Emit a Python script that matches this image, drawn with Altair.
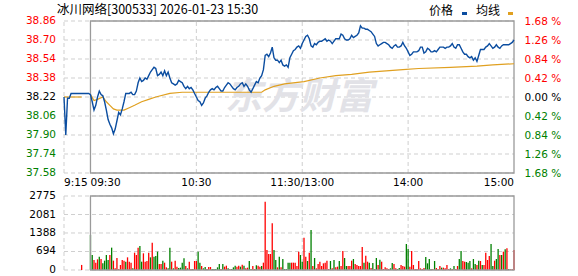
import altair as alt
import pandas as pd

# ---------------- data ----------------
title_text = "冰川网络[300533] 2026-01-23 15:30"
legend_labels = ["价格", "均线"]
watermark_text = "东方财富"
prev_close = 38.22
price_ticks = [37.58, 37.74, 37.90, 38.06, 38.22, 38.38, 38.54, 38.70, 38.86]
pct_step = 0.42
price_step = 0.16
vol_ticks = [0, 694, 1388, 2081, 2775]
time_ticks = [-15, 0, 60, 120, 180, 240]
time_labels = ["9:15", "09:30", "10:30", "11:30/13:00", "14:00", "15:00"]
grid_times = [-15, 60, 120, 180]

pre_minutes = list(range(-15, 0))
pre_prices = [38.22, 37.90, 38.21, 38.21, 38.25, 38.25, 38.25, 38.25,
              38.25, 38.25, 38.25, 38.25, 38.25, 38.25, 38.25]

main_minutes = list(range(0, 241))
prices = [
    38.24, 38.18, 38.11, 38.15, 38.22, 38.27, 38.24, 38.23, 38.18, 38.11,
    38.03, 37.99, 37.96, 37.91, 37.95, 38.02, 38.09, 38.07, 38.12, 38.18,
    38.25, 38.25, 38.25, 38.26, 38.24, 38.24, 38.27, 38.34, 38.38, 38.35,
    38.36, 38.38, 38.37, 38.40, 38.43, 38.45, 38.47, 38.46, 38.40, 38.41,
    38.43, 38.40, 38.44, 38.40, 38.43, 38.38, 38.34, 38.33, 38.32, 38.33,
    38.36, 38.35, 38.34, 38.31, 38.29, 38.31, 38.29, 38.30, 38.28, 38.25,
    38.22, 38.19, 38.18, 38.15, 38.17, 38.21, 38.23, 38.26, 38.28, 38.29,
    38.28, 38.30, 38.31, 38.29, 38.27, 38.27, 38.30, 38.32, 38.34, 38.33,
    38.31, 38.29, 38.28, 38.30, 38.31, 38.33, 38.34, 38.31, 38.33, 38.31,
    38.28, 38.26, 38.29, 38.32, 38.35, 38.34, 38.38, 38.40, 38.45, 38.57,
    38.58, 38.56, 38.59, 38.64, 38.55, 38.53, 38.53, 38.51, 38.53, 38.49,
    38.48, 38.49, 38.47, 38.55, 38.58, 38.61, 38.62, 38.64, 38.65, 38.63,
    38.67, 38.70, 38.73, 38.74, 38.71, 38.65, 38.64, 38.67, 38.66, 38.68,
    38.69, 38.69, 38.70, 38.71, 38.69, 38.70, 38.69, 38.67, 38.69, 38.71,
    38.71, 38.71, 38.75, 38.74, 38.71, 38.70, 38.70, 38.71, 38.74, 38.72,
    38.73, 38.74, 38.76, 38.82, 38.80, 38.80, 38.79, 38.79, 38.78, 38.77,
    38.75, 38.73, 38.67, 38.65, 38.66, 38.67, 38.68, 38.68, 38.67, 38.66,
    38.64, 38.63, 38.65, 38.66, 38.64, 38.64, 38.65, 38.68, 38.65, 38.63,
    38.60, 38.57, 38.58, 38.60, 38.60, 38.60, 38.61, 38.64, 38.64, 38.59,
    38.60, 38.63, 38.62, 38.60, 38.60, 38.61, 38.60, 38.62, 38.64, 38.64,
    38.64, 38.63, 38.64, 38.64, 38.65, 38.67, 38.64, 38.63, 38.66, 38.66,
    38.63, 38.60, 38.58, 38.58, 38.56, 38.55, 38.56, 38.53, 38.55, 38.52,
    38.57, 38.62, 38.62, 38.62, 38.64, 38.65, 38.67, 38.65, 38.63, 38.64,
    38.66, 38.64, 38.63, 38.65, 38.66, 38.66, 38.66, 38.66, 38.67, 38.68, 38.70,
]

avg_minutes = [-15, -5,
               0, 2, 4, 7, 9, 11, 13, 15, 19, 22, 25, 29, 33, 37, 45, 52, 97,
               99, 104, 110, 121, 130, 139, 148, 158, 177, 186, 204, 219, 228, 240]
avg_prices = [38.22, 38.22,
              38.24, 38.19, 38.20, 38.22, 38.18, 38.15, 38.12, 38.11, 38.11, 38.13,
              38.15, 38.18, 38.20, 38.22, 38.25, 38.26, 38.26,
              38.28, 38.31, 38.33, 38.35, 38.38, 38.40, 38.41, 38.43, 38.45, 38.46,
              38.47, 38.48, 38.49, 38.50]
avg_seg = ["pre", "pre"] + ["main"] * 31

pre_vol_minutes = [-5]
pre_volumes = [190]
pre_vol_colors = ["R"]
volumes = [
    1312, 562, 375, 275, 400, 500, 412, 250, 350, 562,
    375, 562, 838, 350, 62, 450, 38, 188, 375, 350,
    312, 475, 312, 275, 62, 650, 562, 838, 900, 312,
    625, 312, 338, 650, 475, 1025, 500, 525, 688, 225,
    225, 350, 275, 100, 62, 838, 312, 62, 350, 125,
    75, 88, 275, 438, 150, 62, 312, 38, 38, 338,
    338, 688, 275, 150, 62, 112, 38, 112, 112, 38,
    38, 38, 100, 225, 38, 225, 125, 162, 62, 38,
    38, 100, 162, 125, 162, 125, 200, 162, 62, 88,
    338, 38, 150, 38, 175, 162, 125, 150, 275, 2562,
    750, 600, 600, 1750, 750, 375, 100, 500, 100, 412,
    38, 38, 275, 275, 275, 275, 275, 150, 688, 562,
    312, 1212, 500, 338, 650, 1500, 150, 450, 62, 225,
    312, 150, 250, 275, 350, 38, 338, 62, 375, 100,
    125, 338, 150, 712, 450, 150, 150, 150, 350, 412,
    225, 188, 150, 150, 862, 275, 538, 312, 275, 75,
    262, 38, 450, 188, 388, 312, 38, 100, 62, 38,
    62, 262, 225, 62, 38, 75, 188, 150, 125, 975,
    788, 125, 712, 188, 38, 38, 338, 62, 38, 75,
    488, 250, 412, 38, 38, 338, 75, 38, 150, 88,
    88, 62, 188, 38, 62, 38, 150, 38, 150, 412,
    712, 338, 312, 300, 275, 338, 62, 412, 225, 188,
    350, 338, 188, 188, 650, 375, 525, 975, 150, 350,
    412, 788, 562, 562, 688, 775, 812, 38, 25, 25, 750,
]
vol_colors = list(
    "GGRRRGRGGG" "GRGRRRRRRR" "GRRRGRRRGG" "RRRRGRGGGR" "RGRRGGRGRR"
    "GGGGRGRRGR" "RGGRGGRRRG" "GGGGRGRRGR" "GGGRRGRGRR" "GGRRGRRGRR"
    "RRRRGGRGRG" "GGGGRRRRRG" "GRRGRGRGRR" "RRRRRRGRGR" "RGRRGGRRRG"
    "RRRRRGRRGR" "GRGRGRRRRR" "GGRRGGRRRG" "GRRRRRRRRR" "GGGGRGRRRG"
    "RRRRGRGRRG" "GRRGGGRGGR" "GRGRRRRGGR" "GGRGRGRGRRR"
)

# ---------------- styling ----------------
RED = "#ff0000"
GREEN = "#008000"
BLUE = "#0b4da0"
ORANGE = "#e0a020"
GRID = "#cfcfcf"
FRAME = "#9a9a9a"
AXFONT = "DejaVu Sans"
CJK = "Noto Sans CJK SC"
LABEL_SIZE = 10.5

W, H = 578, 276

x_scale = alt.Scale(domain=[-15, 240], range=[59, 519], nice=False, zero=False)
p_scale = alt.Scale(domain=[37.58, 38.86], range=[173, 21], nice=False, zero=False)
v_scale = alt.Scale(domain=[0, 2775], range=[270, 196], nice=False, zero=False)

price_df = pd.DataFrame({"t": pre_minutes + main_minutes, "p": pre_prices + prices})
avg_df = pd.DataFrame({"t": avg_minutes, "p": avg_prices, "seg": avg_seg})
vol_df = pd.DataFrame({
    "t": pre_vol_minutes + main_minutes,
    "v": pre_volumes + volumes,
    "c": pre_vol_colors + vol_colors,
})
pt_df = pd.DataFrame({"p": price_ticks, "lab": [f"{p:.2f}" for p in price_ticks]})
vt_df = pd.DataFrame({"v": vol_ticks, "lab": [str(v) for v in vol_ticks]})
gt_df = pd.DataFrame({"t": grid_times})
tt_df = pd.DataFrame({"t": time_ticks, "lab": time_labels})

price_color = {
    "condition": [
        {"test": f"datum.value > {prev_close + 0.005}", "value": RED},
        {"test": f"datum.value < {prev_close - 0.005}", "value": GREEN},
    ],
    "value": "#000000",
}
price_text_color = {
    "condition": [
        {"test": f"datum.p > {prev_close + 0.005}", "value": RED},
        {"test": f"datum.p < {prev_close - 0.005}", "value": GREEN},
    ],
    "value": "#000000",
}

pct_axis = alt.Axis(
    orient="right", offset=-(W - 519), values=price_ticks,
    labelExpr=f"format(abs(round((datum.value - {prev_close}) / {price_step})) * {pct_step}, '.2f') + ' %'",
    domain=False, ticks=False, grid=False, labelPadding=5, labelFont=AXFONT,
    labelFontSize=LABEL_SIZE, labelColor=price_color, labelOverlap=False,
    labelFlush=False, title=None,
)

# ---------------- price panel ----------------
hgrid_p = alt.Chart(pt_df).mark_rule(color=GRID, strokeDash=[4, 3], strokeWidth=1).encode(
    y=alt.Y("p:Q", scale=p_scale, axis=None),
    x=alt.XDatum(-15, type="quantitative", scale=x_scale, axis=None),
    x2=alt.X2Datum(240),
)
vgrid_p = alt.Chart(gt_df).mark_rule(color=GRID, strokeDash=[4, 3], strokeWidth=1).encode(
    x=alt.X("t:Q", scale=x_scale, axis=None),
    y=alt.YDatum(37.58, type="quantitative", scale=p_scale, axis=None),
    y2=alt.Y2Datum(38.86),
)
frame_p = alt.Chart(pd.DataFrame({"k": [0]})).mark_rect(
    fill="transparent", stroke=FRAME, strokeWidth=1.3
).encode(
    x=alt.XDatum(0, type="quantitative", scale=x_scale, axis=None),
    x2=alt.X2Datum(240),
    y=alt.YDatum(37.58, type="quantitative", scale=p_scale, axis=None),
    y2=alt.Y2Datum(38.86),
)
watermark = alt.Chart(pd.DataFrame({"s": [watermark_text]})).mark_text(
    font=CJK, fontSize=37, fontWeight="bold", fontStyle="italic", color="#e2e2e7",
    align="center", baseline="middle",
).encode(x=alt.value(299), y=alt.value(98), text="s:N")
avg_line = alt.Chart(avg_df).mark_line(color=ORANGE, strokeWidth=1.2).encode(
    x=alt.X("t:Q", scale=x_scale, axis=None),
    y=alt.Y("p:Q", scale=p_scale, axis=None),
    detail="seg:N",
)
price_line = alt.Chart(price_df).mark_line(color=BLUE, strokeWidth=1.4).encode(
    x=alt.X("t:Q", scale=x_scale, axis=None),
    y=alt.Y("p:Q", scale=p_scale, axis=None),
)
price_labels = alt.Chart(pt_df).mark_text(
    font=AXFONT, fontSize=LABEL_SIZE, align="right", baseline="middle"
).encode(
    y=alt.Y("p:Q", scale=p_scale, axis=None),
    x=alt.value(56),
    text="lab:N",
    color=price_text_color,
)

def time_label_layer(align, test):
    return alt.Chart(tt_df).transform_filter(test).mark_text(
        font=AXFONT, fontSize=LABEL_SIZE, align=align, baseline="middle", color="#000000"
    ).encode(
        x=alt.X("t:Q", scale=x_scale, axis=None),
        y=alt.value(183),
        text="lab:N",
    )

xl_left = time_label_layer("left", "datum.t <= 0")
xl_mid = time_label_layer("center", "datum.t > 0 && datum.t < 240")
xl_right = time_label_layer("right", "datum.t >= 240")

price_panel = alt.layer(
    hgrid_p, vgrid_p, watermark, frame_p, avg_line, price_line,
    price_labels, xl_left, xl_mid, xl_right,
)

pct_panel = alt.Chart(pt_df).mark_point(opacity=0).encode(
    y=alt.Y("p:Q", scale=p_scale, axis=pct_axis),
)

# ---------------- volume panel ----------------
hgrid_v = alt.Chart(vt_df).mark_rule(color=GRID, strokeDash=[4, 3], strokeWidth=1).encode(
    y=alt.Y("v:Q", scale=v_scale, axis=None),
    x=alt.XDatum(-15, type="quantitative", scale=x_scale, axis=None),
    x2=alt.X2Datum(240),
)
vgrid_v = alt.Chart(gt_df).mark_rule(color=GRID, strokeDash=[4, 3], strokeWidth=1).encode(
    x=alt.X("t:Q", scale=x_scale, axis=None),
    y=alt.YDatum(0, type="quantitative", scale=v_scale, axis=None),
    y2=alt.Y2Datum(2775),
)
frame_v = alt.Chart(pd.DataFrame({"k": [0]})).mark_rect(
    fill="transparent", stroke=FRAME, strokeWidth=1.3
).encode(
    x=alt.XDatum(0, type="quantitative", scale=x_scale, axis=None),
    x2=alt.X2Datum(240),
    y=alt.YDatum(0, type="quantitative", scale=v_scale, axis=None),
    y2=alt.Y2Datum(2775),
)
bars = alt.Chart(vol_df).mark_bar(size=1.3).encode(
    x=alt.X("t:Q", scale=x_scale, axis=None),
    y=alt.Y("v:Q", scale=v_scale, axis=None),
    color=alt.Color("c:N", scale=alt.Scale(domain=["R", "G"], range=[RED, GREEN]), legend=None),
)
vol_labels = alt.Chart(vt_df).mark_text(
    font=AXFONT, fontSize=LABEL_SIZE, align="right", baseline="middle", color="#000000"
).encode(
    y=alt.Y("v:Q", scale=v_scale, axis=None),
    x=alt.value(56),
    text="lab:N",
)
vol_panel = alt.layer(hgrid_v, vgrid_v, bars, frame_v, vol_labels)

# ---------------- header texts ----------------
title = alt.Chart(pd.DataFrame({"s": [title_text]})).mark_text(
    font=CJK, fontSize=12.5, color="#000000", align="left", baseline="middle"
).encode(x=alt.value(57), y=alt.value(10), text="s:N")
leg1 = alt.Chart(pd.DataFrame({"s": [legend_labels[0]]})).mark_text(
    font=CJK, fontSize=12, color="#000000", align="left", baseline="middle"
).encode(x=alt.value(429), y=alt.value(11), text="s:N")
leg2 = alt.Chart(pd.DataFrame({"s": [legend_labels[1]]})).mark_text(
    font=CJK, fontSize=12, color="#000000", align="left", baseline="middle"
).encode(x=alt.value(476), y=alt.value(11), text="s:N")
sw1 = alt.Chart(pd.DataFrame({"k": [0]})).mark_rect(color=BLUE).encode(
    x=alt.value(462), x2=alt.value(467), y=alt.value(12), y2=alt.value(15)
)
sw2 = alt.Chart(pd.DataFrame({"k": [0]})).mark_rect(color=ORANGE).encode(
    x=alt.value(508), x2=alt.value(513), y=alt.value(12), y2=alt.value(15)
)

chart = alt.layer(
    price_panel, pct_panel, vol_panel, title, leg1, leg2, sw1, sw2
).resolve_scale(y="independent").properties(
    width=W, height=H, autosize=alt.AutoSizeParams(type="none"), padding=0
).configure_view(strokeWidth=0)

chart.save("out.html", embed_options={"renderer": "svg", "actions": False})
